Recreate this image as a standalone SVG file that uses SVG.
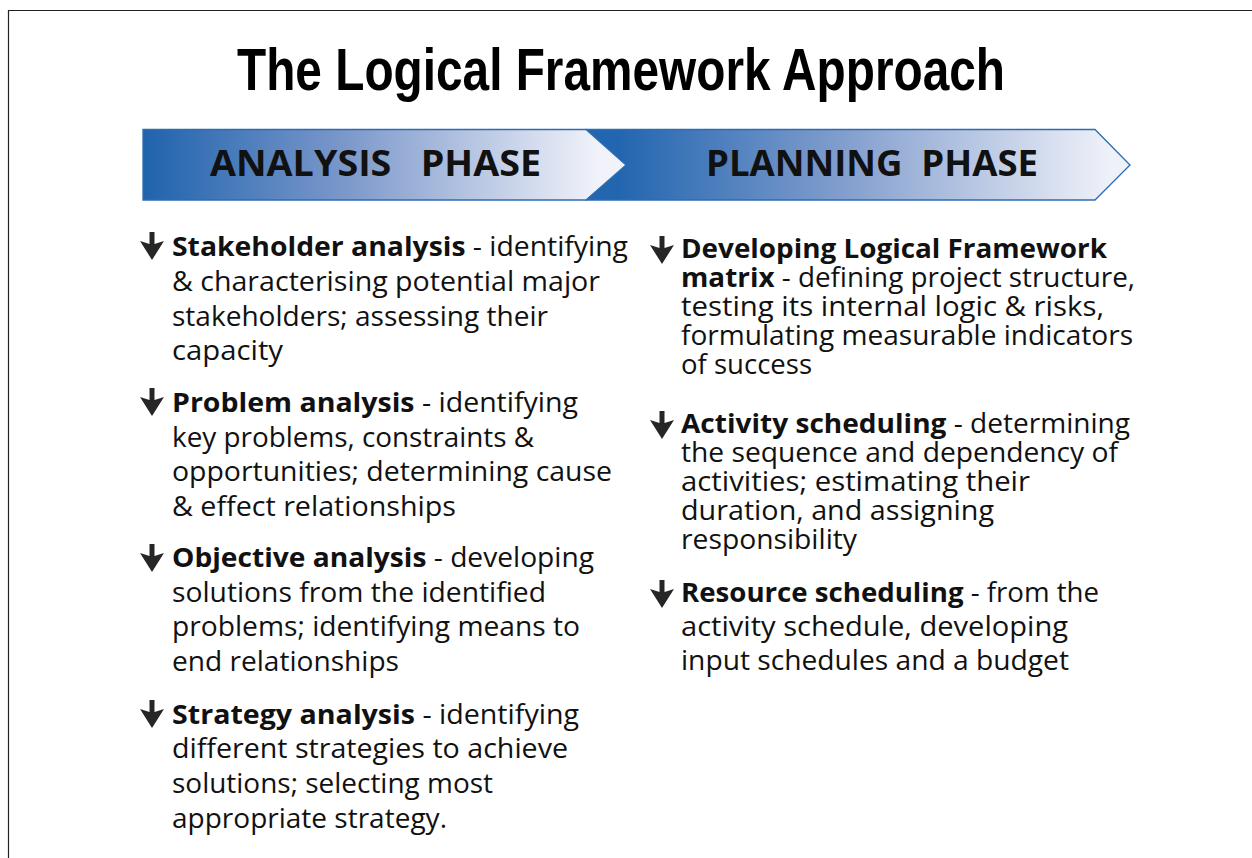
<svg xmlns="http://www.w3.org/2000/svg" width="1252" height="858" viewBox="0 0 1252 858">
<defs>
<style>
.title{font-family:"Liberation Sans Narrow","Liberation Sans",Arial,sans-serif;font-weight:700;font-size:60px;fill:#000}
.phase{font-family:"Open Sans","DejaVu Sans",sans-serif;font-weight:700;font-size:36px;fill:#111}
.body{font-family:"Open Sans","DejaVu Sans",sans-serif;font-size:27px;fill:#111}
.b{font-weight:700}
.ico{fill:#262626}
.banner{stroke:#2c6cb4;stroke-width:1.3}
.frame{fill:none;stroke:#222;stroke-width:1.2}
</style>
<linearGradient id="g1" x1="143" y1="0" x2="600" y2="0" gradientUnits="userSpaceOnUse">
<stop offset="0" stop-color="#1f63ad"/>
<stop offset="0.45" stop-color="#7d99cb"/>
<stop offset="1" stop-color="#f2f3fa"/>
</linearGradient>
<linearGradient id="g2" x1="620" y1="0" x2="1110" y2="0" gradientUnits="userSpaceOnUse">
<stop offset="0" stop-color="#2366b0"/>
<stop offset="0.45" stop-color="#819dcd"/>
<stop offset="1" stop-color="#eff1f9"/>
</linearGradient>
<path id="arr" d="M-2.5,0 h5 v12 l9.5,-3 l-12,19 l-12,-19 l9.5,3 z"/>
</defs>

<rect width="1252" height="858" fill="#fff"/>
<path class="frame" d="M8.5,858 V10.5 H1252"/>

<g id="title">
<text class="title" x="237" y="90" textLength="768" lengthAdjust="spacingAndGlyphs">The Logical Framework Approach</text>
</g>

<g id="planning-phase">
<polygon class="banner" fill="url(#g2)" points="586,129.5 1095,129.5 1130,165 1095,200 586,200"/>
<text class="phase" x="706" y="176" textLength="332" lengthAdjust="spacingAndGlyphs" xml:space="preserve">PLANNING  PHASE</text>
</g>

<g id="analysis-phase">
<polygon class="banner" fill="url(#g1)" points="143,129.5 586,129.5 626,165 586,200 143,200"/>
<text class="phase" x="210" y="176" textLength="331" lengthAdjust="spacingAndGlyphs" xml:space="preserve">ANALYSIS   PHASE</text>
</g>

<g id="stakeholder-analysis">
<use href="#arr" class="ico" x="152" y="232"/>
<text class="body" x="172" y="256" textLength="456" lengthAdjust="spacingAndGlyphs"><tspan class="b">Stakeholder analysis</tspan> - identifying</text>
<text class="body" x="172" y="291" textLength="428" lengthAdjust="spacingAndGlyphs">&amp; characterising potential major</text>
<text class="body" x="172" y="326" textLength="376" lengthAdjust="spacingAndGlyphs">stakeholders; assessing their</text>
<text class="body" x="172" y="360" textLength="111" lengthAdjust="spacingAndGlyphs">capacity</text>
</g>

<g id="problem-analysis">
<use href="#arr" class="ico" x="152" y="388"/>
<text class="body" x="172" y="412" textLength="406" lengthAdjust="spacingAndGlyphs"><tspan class="b">Problem analysis</tspan> - identifying</text>
<text class="body" x="172" y="447" textLength="362" lengthAdjust="spacingAndGlyphs">key problems, constraints &amp;</text>
<text class="body" x="172" y="481" textLength="440" lengthAdjust="spacingAndGlyphs">opportunities; determining cause</text>
<text class="body" x="172" y="516" textLength="284" lengthAdjust="spacingAndGlyphs">&amp; effect relationships</text>
</g>

<g id="objective-analysis">
<use href="#arr" class="ico" x="152" y="544"/>
<text class="body" x="172" y="567" textLength="422" lengthAdjust="spacingAndGlyphs"><tspan class="b">Objective analysis</tspan> - developing</text>
<text class="body" x="172" y="602" textLength="374" lengthAdjust="spacingAndGlyphs">solutions from the identified</text>
<text class="body" x="172" y="636" textLength="408" lengthAdjust="spacingAndGlyphs">problems; identifying means to</text>
<text class="body" x="172" y="671" textLength="227" lengthAdjust="spacingAndGlyphs">end relationships</text>
</g>

<g id="strategy-analysis">
<use href="#arr" class="ico" x="152" y="700"/>
<text class="body" x="172" y="724" textLength="407" lengthAdjust="spacingAndGlyphs"><tspan class="b">Strategy analysis</tspan> - identifying</text>
<text class="body" x="172" y="758" textLength="396" lengthAdjust="spacingAndGlyphs">different strategies to achieve</text>
<text class="body" x="172" y="793" textLength="321" lengthAdjust="spacingAndGlyphs">solutions; selecting most</text>
<text class="body" x="172" y="828" textLength="275" lengthAdjust="spacingAndGlyphs">appropriate strategy.</text>
</g>

<g id="logframe-matrix">
<use href="#arr" class="ico" x="662" y="236"/>
<text class="body b" x="681" y="258" textLength="426" lengthAdjust="spacingAndGlyphs">Developing Logical Framework</text>
<text class="body" x="681" y="287" textLength="454" lengthAdjust="spacingAndGlyphs"><tspan class="b">matrix</tspan> - defining project structure,</text>
<text class="body" x="681" y="316" textLength="423" lengthAdjust="spacingAndGlyphs">testing its internal logic &amp; risks,</text>
<text class="body" x="681" y="345" textLength="452" lengthAdjust="spacingAndGlyphs">formulating measurable indicators</text>
<text class="body" x="681" y="374" textLength="131" lengthAdjust="spacingAndGlyphs">of success</text>
</g>

<g id="activity-scheduling">
<use href="#arr" class="ico" x="662" y="411"/>
<text class="body" x="681" y="433" textLength="449" lengthAdjust="spacingAndGlyphs"><tspan class="b">Activity scheduling</tspan> - determining</text>
<text class="body" x="681" y="462" textLength="437" lengthAdjust="spacingAndGlyphs">the sequence and dependency of</text>
<text class="body" x="681" y="491" textLength="349" lengthAdjust="spacingAndGlyphs">activities; estimating their</text>
<text class="body" x="681" y="520" textLength="313" lengthAdjust="spacingAndGlyphs">duration, and assigning</text>
<text class="body" x="681" y="549" textLength="176" lengthAdjust="spacingAndGlyphs">responsibility</text>
</g>

<g id="resource-scheduling">
<use href="#arr" class="ico" x="662" y="580"/>
<text class="body" x="681" y="602" textLength="418" lengthAdjust="spacingAndGlyphs"><tspan class="b">Resource scheduling</tspan> - from the</text>
<text class="body" x="681" y="636" textLength="387" lengthAdjust="spacingAndGlyphs">activity schedule, developing</text>
<text class="body" x="681" y="670" textLength="388" lengthAdjust="spacingAndGlyphs">input schedules and a budget</text>
</g>

<g id="connectors"/>
</svg>
